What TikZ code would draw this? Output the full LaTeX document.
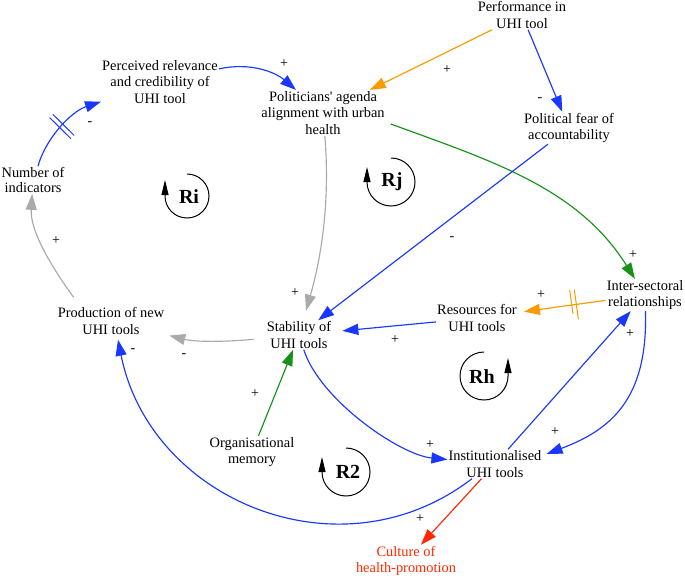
\documentclass[tikz,border=0pt]{standalone}
\usepackage{fontspec}
\setmainfont{Liberation Serif}
\usetikzlibrary{arrows.meta,decorations.markings}
\definecolor{cblue}{RGB}{25,55,255}
\definecolor{corange}{RGB}{255,153,0}
\definecolor{cgreen}{RGB}{25,145,25}
\definecolor{cgray}{RGB}{170,170,170}
\definecolor{cred}{RGB}{255,40,0}
\begin{document}
\begin{tikzpicture}[x=1pt,y=-1pt,
  lbl/.style={font=\fontsize{14.4}{16.8}\selectfont, align=center, inner sep=1pt},
  sgn/.style={font=\fontsize{14}{14}\selectfont, inner sep=0pt},
  edge/.style={line width=1.15pt, -{Triangle[length=16pt,width=11pt]}},
  loopl/.style={font=\fontsize{20}{20}\selectfont\bfseries, inner sep=0pt},
  looparc/.style={line width=1pt, -{Triangle[length=15pt,width=7pt]}},
  hash/.style={postaction={decorate,decoration={markings, mark=at position #1 with {\draw[-,line width=1pt] (-2.3pt,-15pt)--(-2.3pt,15pt) (2.3pt,-15pt)--(2.3pt,15pt);}}}},
  hash/.default=0.5
]
\useasboundingbox (0,0) rectangle (685,578);

% nodes
\node[lbl] (perf) at (522,15) {Performance in\\UHI tool};
\node[lbl] (perc) at (160,82) {Perceived relevance\\and credibility of\\UHI tool};
\node[lbl] (pol) at (323,113) {Politicians\textquotesingle{} agenda\\alignment with urban\\health};
\node[lbl] (fear) at (569,128) {Political fear of\\accountability};
\node[lbl, font=\fontsize{14.4}{15}\selectfont] (numind) at (33,180) {Number of\\indicators};
\node[lbl] (inter) at (645,295) {Inter-sectoral\\relationships};
\node[lbl] (res) at (477,318) {Resources for\\UHI tools};
\node[lbl] (prod) at (111,321) {Production of new\\UHI tools};
\node[lbl] (stab) at (299,335) {Stability of\\UHI tools};
\node[lbl] (org) at (252,452) {Organisational\\memory};
\node[lbl] (inst) at (495,464) {Institutionalised\\UHI tools};
\node[lbl, text=cred] (cult) at (406,561) {Culture of\\health-promotion};

% connectors
\draw[edge,cblue] (perc) .. controls (250,62) and (275,72) .. (pol);
\draw[edge,cblue,hash] ([xshift=5pt]numind.north) .. controls (45,140) and (70,112) .. (perc);
\draw[edge,corange] (perf) -- (pol);
\draw[edge,cblue] (perf) -- (fear);
\draw[edge,cgreen] ([xshift=5pt,yshift=-11pt]pol.east) .. controls (492,161) and (578,188) .. (inter);
\draw[edge,cgray,shorten >=10pt] (pol) .. controls (330,200) and (322,255) .. (stab);
\draw[edge,cblue] (fear) -- (stab);
\draw[edge,cgray] ([xshift=17pt,yshift=9pt]prod.north west) .. controls (50,265) and (30,230) .. (numind);
\draw[edge,cgray,shorten <=12pt,shorten >=4pt] (stab) .. controls (225,342) and (195,342) .. (prod);
\draw[edge,cblue,shorten >=10pt] (res) -- (stab);
\draw[edge,corange,hash=0.36,shorten >=6pt] (inter) -- (res);
\draw[edge,cblue] (stab) .. controls (320,400) and (400,455) .. (inst);
\draw[edge,cgreen] (org) -- (stab);
\draw[edge,cblue] (inter) .. controls (648,400) and (610,430) .. ([xshift=4pt,yshift=10pt]inst.east);
\draw[edge,cblue] (inst) -- (inter);
\draw[edge,cblue] ([xshift=-23pt]inst.south) .. controls (340,580) and (150,500) .. ([xshift=7pt,yshift=-4pt]prod.south);
\draw[edge,cred] (inst) -- (cult);

% polarity signs
\node[sgn] (s1) at (284,64) {+};
\node[sgn] (s2) at (90,124) {-};
\node[sgn] (s3) at (447,70) {+};
\node[sgn] (s4) at (540,100) {-};
\node[sgn] (s5) at (633,255) {+};
\node[sgn] (s6) at (295,293) {+};
\node[sgn] (s7) at (452,239) {-};
\node[sgn] (s8) at (56,241) {+};
\node[sgn] (s9) at (184,356) {-};
\node[sgn] (s10) at (395,340) {+};
\node[sgn] (s11) at (541,295) {+};
\node[sgn] (s12) at (430,445) {+};
\node[sgn] (s13) at (255,394) {+};
\node[sgn] (s14) at (555,432) {+};
\node[sgn] (s15) at (630,334) {+};
\node[sgn] (s16) at (133,351) {-};
\node[sgn] (s17) at (420,519) {+};

% loop markers
\begin{scope}[shift={(187,196)},x=1pt,y=1pt]
  \draw[looparc] (90:22) arc[start angle=90,end angle=-180,radius=22] -- ++(0,16);
\end{scope}
\node[loopl] (ri) at (189,197) {Ri};
\begin{scope}[shift={(391,182)},x=1pt,y=1pt]
  \draw[looparc] (90:24) arc[start angle=90,end angle=-180,radius=24] -- ++(0,15);
\end{scope}
\node[loopl] (rj) at (392,182) {Rj};
\begin{scope}[shift={(484,376)},x=1pt,y=1pt]
  \draw[looparc] (90:24) arc[start angle=90,end angle=360,radius=24] -- ++(0,18);
\end{scope}
\node[loopl] (rh) at (482,377) {Rh};
\begin{scope}[shift={(346,472)},x=1pt,y=1pt]
  \draw[looparc] (90:24) arc[start angle=90,end angle=-180,radius=24] -- ++(0,15);
\end{scope}
\node[loopl] (r2) at (348,472) {R2};
\end{tikzpicture}
\end{document}
